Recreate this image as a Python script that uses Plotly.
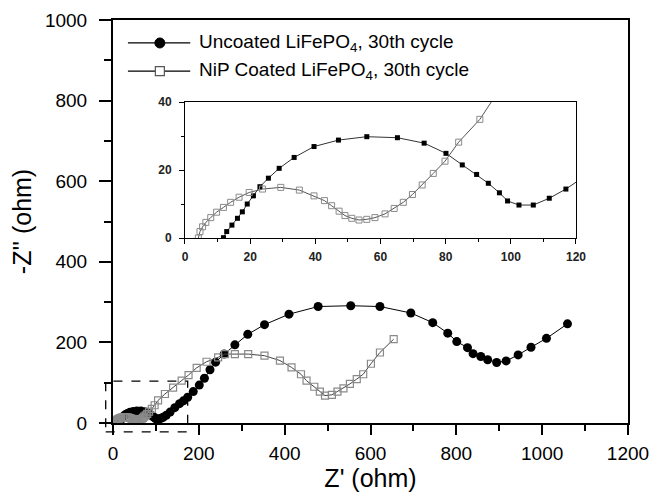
import plotly.graph_objects as go

# impedance data (ohm)
uncoated_x = [11.8, 12.8, 14.4, 16.1, 17.6, 19.1, 21.0, 23.0, 25.6, 28.9, 33.5, 39.6, 47.1, 55.8,
              65.2, 73.4, 80.1, 85.1, 89.5, 93.1, 96.5, 99.0, 102.5, 106.9, 111.8, 116.9, 124,
              133, 144, 155, 164, 174, 187, 201, 213, 226, 239, 259, 284, 314, 353, 410, 478,
              554, 622, 694, 745, 780, 801, 826, 839, 857, 873, 894, 916, 944, 974, 1010, 1059]
uncoated_y = [0.1, 1.9, 3.8, 5.8, 7.7, 10.0, 12.4, 15.1, 17.6, 20.5, 23.7, 26.9, 28.8, 29.8,
              29.5, 27.9, 24.9, 21.5, 18.7, 16.1, 13.3, 10.9, 9.7, 9.7, 11.7, 14.4, 19,
              27, 38, 48, 55, 64, 78, 94, 111, 132, 151, 171, 194, 220, 244, 270, 289,
              291, 289, 273, 249, 223, 202, 187, 172, 165, 157, 150, 154, 169, 188, 210, 246]

coated_x = [4.1, 4.6, 5.4, 6.4, 7.9, 9.7, 11.8, 14.0, 16.6, 19.7, 23.8, 29.4, 35.1, 39.6, 42.8,
            45.0, 47.3, 49.1, 51.2, 53.4, 55.8, 58.3, 61.4, 64.2, 67.0, 69.8, 72.8, 76.2, 79.8,
            84.0, 90.5, 97, 105, 121, 140, 160, 176, 195, 218, 245, 261, 284, 315, 353, 389,
            416, 438, 451, 469, 482, 494, 510, 523, 537, 552, 568, 583, 601, 622, 654]
coated_y = [0, 1.9, 3.3, 4.6, 6.0, 7.6, 9.0, 10.5, 12.0, 13.4, 14.4, 14.9, 14.1, 12.4, 11.0,
            9.5, 7.9, 6.6, 5.8, 5.3, 5.5, 6.0, 7.1, 8.7, 10.5, 12.8, 15.6, 19.0, 22.6,
            28.2, 34.9, 44, 56, 72, 88, 105, 119, 137, 152, 163, 171, 171, 171, 167, 155,
            138, 121, 105, 90, 78, 68, 70, 78, 86, 97, 109, 121, 147, 175, 208]

legend_names = ["Uncoated LiFePO<sub>4</sub>, 30th cycle", "NiP Coated LiFePO<sub>4</sub>, 30th cycle"]

main_x_range = [0, 1200]
main_y_range = [0, 1000]
inset_x_range = [0, 120]
inset_y_range = [0, 40]
zoom_box = dict(x0=-17, x1=174, y0=-22, y1=104)

FONT = "Arial, Liberation Sans, sans-serif"
GREY = "#8a8a8a"

fig = go.Figure()

# main plot
fig.add_trace(go.Scatter(x=uncoated_x, y=uncoated_y, mode="lines+markers",
                         line=dict(color="black", width=1),
                         marker=dict(symbol="circle", size=9, color="black"),
                         showlegend=False))
fig.add_trace(go.Scatter(x=coated_x, y=coated_y, mode="lines+markers",
                         line=dict(color="#444", width=1),
                         marker=dict(symbol="square-open", size=7, color=GREY, line=dict(width=1.2)),
                         showlegend=False))

# inset
fig.add_trace(go.Scatter(x=uncoated_x, y=uncoated_y, mode="lines+markers", xaxis="x2", yaxis="y2",
                         line=dict(color="#333", width=1),
                         marker=dict(symbol="square", size=5, color="black"),
                         showlegend=False))
fig.add_trace(go.Scatter(x=coated_x, y=coated_y, mode="lines+markers", xaxis="x2", yaxis="y2",
                         line=dict(color="#555", width=1),
                         marker=dict(symbol="square-open", size=6, color=GREY, line=dict(width=1)),
                         showlegend=False))

axis_common = dict(showline=True, linecolor="black", mirror=True, showgrid=False, automargin=False,
                   zeroline=False, ticks="outside", tickcolor="black")
inset_font = dict(size=12, family=FONT, weight="bold", color="#222")

fig.update_layout(
    width=654, height=496,
    margin=dict(l=113, r=26, t=20, b=73),
    paper_bgcolor="white", plot_bgcolor="white",
    font=dict(family=FONT, color="black"),
    xaxis=dict(**axis_common, range=main_x_range, dtick=200, linewidth=2, ticklen=10, tickwidth=2,
               minor=dict(dtick=100, ticklen=6, tickwidth=2, tickcolor="black", ticks="outside"),
               tickfont=dict(size=19), ticklabelstandoff=2,
               title=dict(text="Z' (ohm)", font=dict(size=25), standoff=4)),
    yaxis=dict(**axis_common, range=main_y_range, dtick=200, linewidth=2, ticklen=12, tickwidth=2,
               minor=dict(dtick=100, ticklen=7, tickwidth=2, tickcolor="black", ticks="outside"),
               tickfont=dict(size=19), ticklabelstandoff=8,
               title=dict(text="-Z'' (ohm)", font=dict(size=25), standoff=6)),
    xaxis2=dict(**axis_common, range=inset_x_range, dtick=20, linewidth=1, ticklen=5,
                minor=dict(dtick=10, ticklen=3, tickcolor="black", ticks="outside"),
                domain=[0.1398, 0.899], anchor="y2", tickfont=inset_font, ticklabelstandoff=3),
    yaxis2=dict(**axis_common, range=inset_y_range, dtick=20, linewidth=1, ticklen=5,
                minor=dict(dtick=10, ticklen=3, tickcolor="black", ticks="outside"),
                domain=[0.459, 0.7965], anchor="x2", tickfont=inset_font, ticklabelstandoff=5),
)


def to_paper(v, rng):
    return (v - rng[0]) / (rng[1] - rng[0])


# dashed box marking the zoomed region
fig.add_shape(type="rect", xref="paper", yref="paper",
              x0=to_paper(zoom_box["x0"], main_x_range), x1=to_paper(zoom_box["x1"], main_x_range),
              y0=to_paper(zoom_box["y0"], main_y_range), y1=to_paper(zoom_box["y1"], main_y_range),
              line=dict(color="black", width=1.3, dash="dash"))

# hand-drawn legend
legend_rows = [0.943, 0.873]
line_x = [0.029, 0.150]
sym_x = 0.091
for i, (name, ry) in enumerate(zip(legend_names, legend_rows)):
    fig.add_shape(type="line", xref="paper", yref="paper", x0=line_x[0], x1=line_x[1], y0=ry, y1=ry,
                  line=dict(color="black", width=1.3))
    if i == 0:
        fig.add_shape(type="circle", xref="paper", yref="paper", xsizemode="pixel", ysizemode="pixel",
                      xanchor=sym_x, yanchor=ry, x0=-5, x1=5, y0=-5, y1=5,
                      fillcolor="black", line=dict(color="black", width=1))
    else:
        fig.add_shape(type="rect", xref="paper", yref="paper", xsizemode="pixel", ysizemode="pixel",
                      xanchor=sym_x, yanchor=ry, x0=-4.5, x1=4.5, y0=-4.5, y1=4.5,
                      fillcolor="white", line=dict(color="#555", width=1.2))
    fig.add_annotation(x=0.163, y=ry, xref="paper", yref="paper", text=name, showarrow=False,
                       xanchor="left", yanchor="middle", font=dict(size=19, family=FONT))

# the page's default 8px body margin would shift the whole figure
fig.write_html("out.html", config={"displayModeBar": False},
               post_script="document.body.style.margin = '0';")
